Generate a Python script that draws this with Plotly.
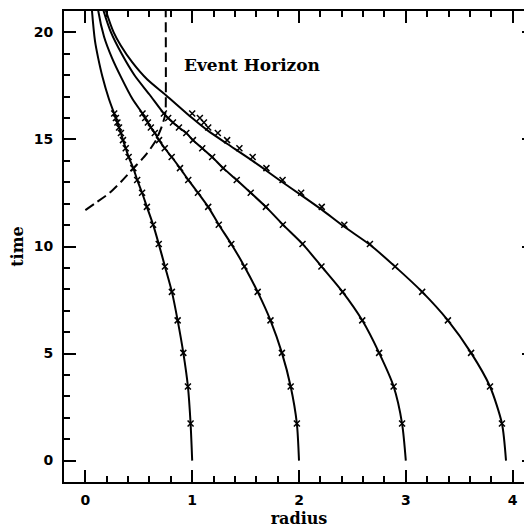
import plotly.graph_objects as go

# ---- data ----
t_cross = [1.73, 3.46, 5.03, 6.55, 7.88, 9.07, 10.12, 11.02, 11.85, 12.51,
           13.11, 13.66, 14.18, 14.59, 14.97, 15.30, 15.56, 15.79, 16.00, 16.21]

r_cross_1 = [0.985, 0.960, 0.917, 0.864, 0.810, 0.745, 0.687, 0.634, 0.576, 0.531,
             0.485, 0.449, 0.405, 0.378, 0.352, 0.333, 0.315, 0.300, 0.286, 0.270]
r_cross_2 = [1.980, 1.922, 1.840, 1.733, 1.613, 1.489, 1.366, 1.249, 1.150, 1.054,
             0.963, 0.886, 0.808, 0.743, 0.690, 0.650, 0.613, 0.585, 0.560, 0.535]
r_cross_3 = [2.965, 2.886, 2.750, 2.592, 2.408, 2.210, 2.033, 1.849, 1.690, 1.548,
             1.417, 1.290, 1.187, 1.094, 1.007, 0.945, 0.876, 0.820, 0.775, 0.735]
r_cross_4 = [3.900, 3.788, 3.611, 3.394, 3.153, 2.900, 2.664, 2.424, 2.213, 2.020,
             1.846, 1.695, 1.566, 1.442, 1.327, 1.240, 1.150, 1.110, 1.072, 1.000]

# solid (analytic) curves: start at t=0, pass the crosses, continue to the top
r_start = [1.0, 2.0, 3.0]
r_top_1 = [0.22, 0.16, 0.12, 0.09, 0.062, 0.055]
t_top_1 = [16.9, 17.93, 18.8, 19.6, 21.0, 21.5]
r_top_2 = [0.44, 0.335, 0.25, 0.175, 0.121, 0.11]
t_top_2 = [16.9, 17.9, 18.8, 19.8, 21.0, 21.5]
r_top_3 = [0.60, 0.46, 0.34, 0.24, 0.171, 0.15]
t_top_3 = [17.1, 18.0, 19.0, 20.0, 21.0, 21.4]

r_line_4 = [3.938, 3.900, 3.788, 3.611, 3.394, 3.153, 2.900, 2.664, 2.424, 2.213,
            2.020, 1.846, 1.566, 1.327, 1.150, 1.000, 0.752, 0.58, 0.44, 0.33,
            0.265, 0.193, 0.17]
t_line_4 = [0.0, 1.73, 3.46, 5.03, 6.55, 7.88, 9.06, 10.08, 10.92, 11.72,
            12.40, 13.00, 14.00, 14.80, 15.40, 16.00, 17.08, 17.8, 18.6, 19.4,
            20.0, 21.0, 21.4]

# event horizon (dashed)
r_horizon = [0.0, 0.1, 0.224, 0.33, 0.441, 0.57, 0.66, 0.715, 0.745, 0.752, 0.752]
t_horizon = [11.7, 12.05, 12.49, 13.0, 13.6, 14.3, 14.95, 15.6, 16.1, 16.45, 21.5]

label_text = "Event Horizon"
label_pos = (0.90, 18.48)

x_range = [-0.2, 4.2]
y_range = [-1.0, 21.0]

# ---- figure ----
fig = go.Figure()

line_style = dict(color="black", width=2, shape="spline", smoothing=0.7)

tops = [(r_top_1, t_top_1), (r_top_2, t_top_2), (r_top_3, t_top_3)]
crosses = [r_cross_1, r_cross_2, r_cross_3]
for r0, rc, (rt, tt) in zip(r_start, crosses, tops):
    fig.add_trace(go.Scatter(x=[r0] + rc + rt, y=[0.0] + t_cross + tt,
                             mode="lines", line=line_style,
                             hoverinfo="skip", showlegend=False))

fig.add_trace(go.Scatter(x=r_line_4, y=t_line_4, mode="lines", line=line_style,
                         hoverinfo="skip", showlegend=False))

for rc in [r_cross_1, r_cross_2, r_cross_3, r_cross_4]:
    fig.add_trace(go.Scatter(x=rc, y=t_cross, mode="markers",
                             marker=dict(symbol="x-thin", size=6, color="black",
                                         line=dict(width=1.5, color="black")),
                             showlegend=False))

fig.add_trace(go.Scatter(x=r_horizon, y=t_horizon, mode="lines",
                         line=dict(color="black", width=2, dash="10px,5px",
                                   shape="spline", smoothing=0.5),
                         hoverinfo="skip", showlegend=False))

fig.add_annotation(x=label_pos[0], y=label_pos[1], text=label_text, showarrow=False,
                   xanchor="left", yanchor="middle",
                   font=dict(family="DejaVu Serif", size=17, color="black", weight="bold"))

tickfont = dict(family="DejaVu Sans", size=14, color="black", weight="bold")
titlefont = dict(family="DejaVu Serif", size=16, color="black", weight="bold")

# the page body adds an 8px offset; the plot's right spine falls just past the window edge
fig.update_layout(
    width=528, height=520,
    margin=dict(l=56, r=0, t=3, b=46),
    paper_bgcolor="white", plot_bgcolor="white",
    xaxis=dict(range=x_range, showline=True, linewidth=2, linecolor="black",
               mirror="ticks", ticks="inside", ticklen=12, tickwidth=2,
               tickcolor="black", tick0=0, dtick=1,
               minor=dict(ticks="inside", ticklen=6, tickwidth=2, tickcolor="black",
                          tick0=0, dtick=0.2, showgrid=False),
               showgrid=False, zeroline=False, tickfont=tickfont,
               ticklabelstandoff=4,
               title=dict(text="radius", font=titlefont, standoff=8)),
    yaxis=dict(range=y_range, showline=True, linewidth=2, linecolor="black",
               mirror="ticks", ticks="inside", ticklen=12, tickwidth=2,
               tickcolor="black", tick0=0, dtick=5,
               minor=dict(ticks="inside", ticklen=6, tickwidth=2, tickcolor="black",
                          tick0=0, dtick=1, showgrid=False),
               showgrid=False, zeroline=False, tickfont=tickfont,
               ticklabelstandoff=6,
               title=dict(text="time", font=titlefont, standoff=6)),
)

fig.write_html("out.html")
